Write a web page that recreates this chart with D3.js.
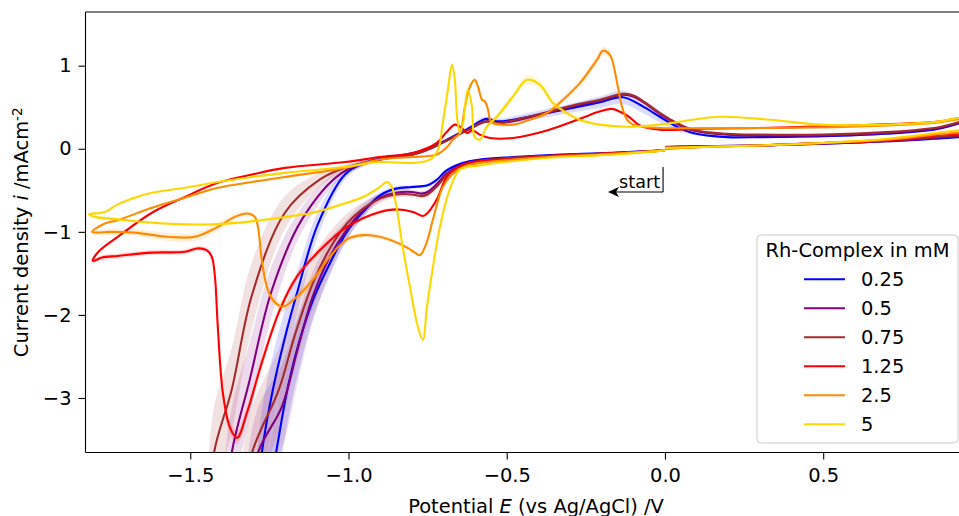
<!DOCTYPE html>
<html><head><meta charset="utf-8">
<script src="https://cdn.jsdelivr.net/npm/d3@7"></script>
<style>body{margin:0;background:#fff}svg{display:block}text{font-family:"DejaVu Sans",sans-serif;fill:#000}</style>
</head><body>
<svg id="chart" width="959" height="516"></svg>
<script>
// ---- data: each point is [E (V vs Ag/AgCl), i (mA cm^-2), band half-width]
const concentrations = ["0.25","0.5","0.75","1.25","2.5","5"];
const colors = ["#0000ff","#800080","#a52a2a","#ff0000","#ff8c00","#ffd700"];
const xTicks = [-1.5,-1.0,-0.5,0.0,0.5];
const yTicks = [1,0,-1,-2,-3];

const cv025 = [
[0,-0.02,0],[-0.12,-0.04,0],[-0.21,-0.055,0],[-0.33,-0.07,0],[-0.48,-0.10,0],[-0.585,-0.13,0.01],[-0.64,-0.17,0.01],
[-0.69,-0.26,0.02],[-0.72,-0.37,0.02],[-0.75,-0.44,0.02],[-0.80,-0.46,0.02],[-0.85,-0.48,0.03],[-0.90,-0.56,0.04],
[-0.954,-0.76,0.06],[-1.005,-1.0,0.1],[-1.059,-1.38,0.15],[-1.11,-1.80,0.22],[-1.154,-2.3,0.32],[-1.19,-2.84,0.4],
[-1.229,-3.66,0.5],[-1.29,-5.0,0.55],[-1.36,-6.5,0.55],[-1.31,-5.0,0.55],[-1.274,-3.66,0.5],[-1.239,-2.9,0.42],
[-1.194,-2.17,0.32],[-1.16,-1.70,0.25],[-1.097,-0.91,0.15],[-1.011,-0.31,0.06],[-0.948,-0.17,0.03],[-0.885,-0.11,0.02],
[-0.796,-0.05,0.01],[-0.743,0.01,0.01],[-0.689,0.11,0.01],[-0.648,0.19,0.02],[-0.61,0.27,0.02],[-0.585,0.33,0.03],
[-0.563,0.36,0.03],[-0.531,0.33,0.03],[-0.48,0.35,0.04],[-0.373,0.43,0.05],[-0.269,0.51,0.06],[-0.205,0.56,0.07],
[-0.133,0.62,0.08],[-0.07,0.51,0.08],[-0.016,0.385,0.07],[0.038,0.265,0.04],[0.088,0.19,0.02],[0.196,0.14,0.01],
[0.30,0.14,0],[0.50,0.15,0],[0.70,0.18,0],[0.85,0.23,0],[1.0,0.34,0],[1.0,0.2,0],[0.85,0.12,0],[0.70,0.09,0],
[0.50,0.06,0],[0.30,0.04,0],[0.10,0.03,0],[0,0.02,0]
];
const cv05 = [
[0,-0.02,0],[-0.12,-0.045,0],[-0.21,-0.06,0],[-0.33,-0.08,0],[-0.48,-0.11,0],[-0.585,-0.14,0.01],[-0.64,-0.19,0.01],
[-0.69,-0.30,0.02],[-0.72,-0.42,0.03],[-0.75,-0.52,0.03],[-0.77,-0.54,0.03],[-0.80,-0.52,0.03],[-0.85,-0.53,0.04],
[-0.90,-0.59,0.05],[-0.954,-0.74,0.08],[-1.005,-0.97,0.12],[-1.059,-1.30,0.2],[-1.113,-1.78,0.3],[-1.16,-2.4,0.4],
[-1.21,-3.1,0.5],[-1.286,-3.66,0.55],[-1.34,-4.8,0.6],[-1.43,-6.3,0.6],[-1.40,-4.7,0.6],[-1.369,-3.66,0.55],
[-1.312,-2.78,0.45],[-1.242,-1.70,0.3],[-1.147,-0.85,0.15],[-1.021,-0.29,0.06],[-0.901,-0.13,0.02],[-0.796,-0.07,0.01],
[-0.743,0.0,0.01],[-0.689,0.10,0.01],[-0.648,0.18,0.01],[-0.61,0.25,0.01],[-0.585,0.30,0.01],[-0.56,0.33,0.01],
[-0.53,0.31,0.01],[-0.48,0.33,0.01],[-0.373,0.43,0.02],[-0.269,0.53,0.02],[-0.205,0.58,0.02],[-0.133,0.65,0.02],
[-0.10,0.63,0.02],[-0.06,0.54,0.02],[-0.016,0.42,0.02],[0.038,0.30,0.01],[0.088,0.22,0.01],[0.196,0.17,0],
[0.30,0.16,0],[0.50,0.16,0],[0.70,0.19,0],[0.85,0.24,0],[1.0,0.34,0],[1.0,0.21,0],[0.85,0.13,0],[0.70,0.09,0],
[0.50,0.06,0],[0.30,0.04,0],[0.10,0.03,0],[0,0.02,0]
];
const cv075 = [
[0,-0.02,0],[-0.12,-0.045,0],[-0.21,-0.06,0],[-0.33,-0.08,0],[-0.48,-0.11,0],[-0.585,-0.15,0.01],[-0.64,-0.20,0.01],
[-0.69,-0.32,0.02],[-0.72,-0.45,0.03],[-0.75,-0.55,0.03],[-0.77,-0.57,0.03],[-0.80,-0.55,0.03],[-0.85,-0.55,0.04],
[-0.90,-0.60,0.05],[-0.954,-0.72,0.08],[-1.005,-0.90,0.12],[-1.059,-1.20,0.2],[-1.113,-1.62,0.3],[-1.17,-2.25,0.4],
[-1.22,-2.9,0.5],[-1.305,-3.66,0.55],[-1.36,-4.8,0.6],[-1.48,-6.3,0.6],[-1.45,-4.8,0.6],[-1.425,-3.66,0.55],
[-1.369,-2.90,0.5],[-1.305,-1.76,0.4],[-1.201,-0.77,0.2],[-1.09,-0.37,0.08],[-1.011,-0.23,0.04],[-0.901,-0.13,0.02],
[-0.796,-0.07,0.01],[-0.743,0.0,0.01],[-0.689,0.10,0.01],[-0.648,0.18,0.01],[-0.61,0.25,0.01],[-0.585,0.31,0.01],
[-0.56,0.33,0.01],[-0.53,0.31,0.01],[-0.48,0.34,0.01],[-0.373,0.44,0.02],[-0.269,0.54,0.02],[-0.205,0.59,0.02],
[-0.133,0.66,0.02],[-0.10,0.64,0.02],[-0.06,0.55,0.02],[-0.016,0.43,0.02],[0.038,0.31,0.01],[0.088,0.23,0.01],
[0.196,0.18,0],[0.30,0.17,0],[0.50,0.17,0],[0.70,0.20,0],[0.85,0.25,0],[1.0,0.35,0],[1.0,0.22,0],[0.85,0.14,0],
[0.70,0.10,0],[0.50,0.07,0],[0.30,0.04,0],[0.10,0.03,0],[0,0.02,0]
];
const cv125 = [
[0,-0.02,0],[-0.12,-0.05,0],[-0.21,-0.06,0],[-0.33,-0.08,0],[-0.48,-0.12,0],[-0.585,-0.15,0],[-0.638,-0.19,0],
[-0.689,-0.34,0.01],[-0.721,-0.61,0.01],[-0.752,-0.78,0.01],[-0.765,-0.81,0.01],[-0.796,-0.76,0.01],[-0.85,-0.73,0.01],
[-0.901,-0.76,0.02],[-1.005,-0.94,0.03],[-1.09,-1.22,0.04],[-1.163,-1.54,0.05],[-1.217,-1.94,0.06],[-1.271,-2.54,0.08],
[-1.321,-3.18,0.08],[-1.352,-3.48,0.08],[-1.375,-3.35,0.08],[-1.397,-2.94,0.08],[-1.413,-2.14,0.06],[-1.422,-1.54,0.05],
[-1.432,-1.30,0.04],[-1.448,-1.22,0.03],[-1.479,-1.20,0.03],[-1.517,-1.24,0.03],[-1.621,-1.25,0.03],[-1.729,-1.29,0.03],
[-1.779,-1.31,0.03],[-1.808,-1.35,0.02],[-1.79,-1.24,0.01],[-1.729,-1.06,0.01],[-1.621,-0.77,0.01],[-1.517,-0.58,0.01],
[-1.413,-0.41,0.01],[-1.305,-0.31,0.01],[-1.201,-0.23,0.01],[-1.011,-0.16,0],[-0.901,-0.10,0],[-0.796,-0.05,0],
[-0.721,0.07,0.01],[-0.689,0.205,0.01],[-0.664,0.29,0.01],[-0.642,0.25,0.01],[-0.626,0.19,0.01],[-0.607,0.22,0.01],
[-0.585,0.17,0.01],[-0.553,0.13,0.01],[-0.48,0.13,0.01],[-0.373,0.22,0.01],[-0.269,0.36,0.01],[-0.205,0.45,0.01],
[-0.168,0.48,0.01],[-0.12,0.40,0.01],[-0.079,0.28,0.01],[-0.016,0.23,0],[0.111,0.24,0],[0.30,0.25,0],[0.585,0.28,0],
[0.85,0.32,0],[1.0,0.38,0],[1.0,0.24,0],[0.85,0.16,0],[0.70,0.10,0],[0.50,0.07,0],[0.30,0.04,0],[0.10,0.02,0],[0,0.0,0]
];
const cv25 = [
[0,-0.02,0],[-0.12,-0.05,0],[-0.21,-0.07,0],[-0.33,-0.09,0],[-0.48,-0.13,0],[-0.585,-0.17,0],[-0.638,-0.22,0.01],
[-0.67,-0.30,0.01],[-0.702,-0.46,0.01],[-0.733,-0.85,0.02],[-0.755,-1.15,0.02],[-0.774,-1.28,0.02],[-0.79,-1.25,0.02],
[-0.815,-1.19,0.02],[-0.847,-1.13,0.02],[-0.901,-1.06,0.03],[-0.954,-1.04,0.03],[-1.005,-1.09,0.04],[-1.059,-1.30,0.05],
[-1.113,-1.58,0.05],[-1.163,-1.78,0.06],[-1.207,-1.90,0.06],[-1.239,-1.82,0.05],[-1.258,-1.66,0.05],[-1.274,-1.34,0.04],
[-1.286,-0.94,0.03],[-1.296,-0.82,0.03],[-1.318,-0.78,0.03],[-1.359,-0.82,0.04],[-1.413,-0.94,0.05],[-1.485,-1.06,0.05],
[-1.571,-1.06,0.05],[-1.676,-1.01,0.04],[-1.748,-1.00,0.04],[-1.81,-1.00,0.03],[-1.77,-0.90,0.01],[-1.729,-0.86,0.01],
[-1.621,-0.71,0.01],[-1.517,-0.59,0.01],[-1.413,-0.47,0.01],[-1.305,-0.40,0.01],[-1.201,-0.34,0.01],[-1.011,-0.23,0.01],
[-0.901,-0.13,0],[-0.796,-0.10,0],[-0.721,-0.07,0],[-0.689,0.02,0.01],[-0.670,0.11,0.01],[-0.648,0.19,0.02],
[-0.632,0.51,0.03],[-0.616,0.75,0.03],[-0.601,0.83,0.03],[-0.591,0.75,0.03],[-0.578,0.59,0.02],[-0.569,0.57,0.02],
[-0.559,0.47,0.02],[-0.553,0.35,0.02],[-0.544,0.31,0.02],[-0.48,0.29,0.02],[-0.427,0.35,0.02],[-0.373,0.43,0.03],
[-0.322,0.59,0.04],[-0.269,0.79,0.05],[-0.215,1.07,0.05],[-0.196,1.18,0.05],[-0.174,1.13,0.05],[-0.164,1.03,0.04],
[-0.149,0.75,0.03],[-0.136,0.51,0.02],[-0.12,0.35,0.01],[-0.101,0.29,0.01],[-0.07,0.265,0],[-0.016,0.25,0],[0.30,0.25,0],
[0.585,0.265,0],[0.85,0.31,0],[1.0,0.37,0],[1.0,0.26,0],[0.85,0.17,0],[0.70,0.11,0],[0.50,0.07,0],[0.30,0.04,0],
[0.10,0.02,0],[0,0.0,0]
];
const cv5 = [
[0,-0.02,0],[-0.12,-0.06,0],[-0.21,-0.08,0],[-0.33,-0.10,0],[-0.48,-0.15,0],[-0.585,-0.20,0],[-0.648,-0.25,0.01],
[-0.68,-0.49,0.01],[-0.711,-0.94,0.02],[-0.733,-1.42,0.02],[-0.752,-1.90,0.03],[-0.765,-2.30,0.03],[-0.781,-2.14,0.03],
[-0.806,-1.66,0.02],[-0.831,-1.13,0.02],[-0.847,-0.73,0.02],[-0.863,-0.46,0.02],[-0.879,-0.40,0.02],[-0.901,-0.46,0.02],
[-0.954,-0.58,0.02],[-1.005,-0.65,0.02],[-1.113,-0.77,0.02],[-1.217,-0.83,0.02],[-1.321,-0.88,0.02],[-1.429,-0.91,0.02],
[-1.517,-0.91,0.02],[-1.621,-0.89,0.02],[-1.729,-0.85,0.02],[-1.801,-0.82,0.02],[-1.82,-0.79,0.01],[-1.77,-0.76,0.01],
[-1.729,-0.67,0.01],[-1.676,-0.59,0.01],[-1.621,-0.53,0.01],[-1.517,-0.47,0.01],[-1.413,-0.40,0.01],[-1.305,-0.34,0.01],
[-1.201,-0.29,0.01],[-1.011,-0.22,0.01],[-0.901,-0.16,0.01],[-0.796,-0.17,0.01],[-0.743,-0.13,0.01],[-0.717,-0.01,0.02],
[-0.702,0.31,0.03],[-0.686,0.71,0.04],[-0.673,1.01,0.05],[-0.664,0.83,0.04],[-0.657,0.385,0.03],[-0.648,0.19,0.02],
[-0.638,0.31,0.03],[-0.623,0.71,0.04],[-0.61,0.51,0.03],[-0.601,0.14,0.02],[-0.585,0.11,0.02],[-0.563,0.265,0.03],
[-0.531,0.385,0.04],[-0.48,0.63,0.05],[-0.436,0.83,0.06],[-0.395,0.77,0.06],[-0.354,0.55,0.05],[-0.31,0.43,0.04],
[-0.269,0.35,0.03],[-0.205,0.29,0.02],[-0.12,0.265,0.01],[-0.016,0.29,0],[0.088,0.35,0],[0.174,0.385,0],[0.332,0.35,0],
[0.49,0.29,0],[0.702,0.29,0],[0.85,0.32,0],[1.0,0.39,0],[1.0,0.29,0],[0.85,0.19,0],[0.70,0.12,0],[0.50,0.07,0],
[0.30,0.04,0],[0.10,0.02,0],[0,0.01,0]
];
const seriesData = [cv025, cv05, cv075, cv125, cv25, cv5];
const startText = "start";
const startArrow = {tail:[-0.006,-0.52], head:[-0.18,-0.52], barTop:-0.22, text:[-0.145,-0.47]};

// ---- layout
const svg = d3.select("#chart");
const L = 85.5, R = 986.5, T = 12, B = 452.5;
const x = d3.scaleLinear().domain([-1.831, 1.016]).range([L, R]);
const y = d3.scaleLinear().domain([-3.656, 1.646]).range([B, T]);

svg.append("clipPath").attr("id","clip").append("rect")
  .attr("x",L).attr("y",T).attr("width",R-L).attr("height",B-T);
const plot = svg.append("g").attr("clip-path","url(#clip)");

const curve = d3.curveCatmullRom.alpha(0.5);
const band = d3.area().defined(d=>d[2]>0).curve(curve)
  .x(d=>x(d[0])).y0(d=>y(d[1]-d[2])).y1(d=>y(d[1]+d[2]));
const line = d3.line().curve(curve).x(d=>x(d[0])).y(d=>y(d[1]));

seriesData.forEach((s,k)=>{
  plot.append("path").attr("d",band(s)).attr("fill",colors[k]).attr("fill-opacity",0.14).attr("stroke","none");
});
seriesData.forEach((s,k)=>{
  plot.append("path").attr("d",line(s)).attr("fill","none").attr("stroke",colors[k])
    .attr("stroke-width",2.1).attr("stroke-linejoin","round");
});

// start annotation
const ann = svg.append("g");
ann.append("line").attr("x1",x(startArrow.tail[0])).attr("x2",x(startArrow.head[0])+8)
  .attr("y1",y(startArrow.tail[1])).attr("y2",y(startArrow.head[1])).attr("stroke","#000").attr("stroke-width",1.1);
ann.append("line").attr("x1",x(startArrow.tail[0])).attr("x2",x(startArrow.tail[0]))
  .attr("y1",y(startArrow.tail[1])).attr("y2",y(startArrow.barTop)).attr("stroke","#000").attr("stroke-width",1.1);
const hx = x(startArrow.head[0]), hy = y(startArrow.head[1]);
ann.append("path").attr("d",`M${hx},${hy} L${hx+11},${hy-5} L${hx+8},${hy} L${hx+11},${hy+5} Z`).attr("fill","#000");
ann.append("text").attr("x",x(startArrow.text[0])).attr("y",y(startArrow.text[1]))
  .style("font-size","17.6px").text(startText);

// axes
const fs = "19.44px";
const gx = svg.append("g").attr("transform",`translate(0,${B})`)
  .call(d3.axisBottom(x).tickValues(xTicks).tickSize(7).tickPadding(9)
    .tickFormat(d=>d3.format(".1f")(d).replace("-","\u2212")));
gx.select(".domain").remove();
gx.selectAll("line").attr("stroke","#000").attr("stroke-width",1.1);
gx.selectAll("text").style("font-size",fs).style("font-family","DejaVu Sans");
const gy = svg.append("g").attr("transform",`translate(${L},0)`)
  .call(d3.axisLeft(y).tickValues(yTicks).tickSize(7).tickPadding(7)
    .tickFormat(d=>String(d).replace("-","\u2212")));
gy.select(".domain").remove();
gy.selectAll("line").attr("stroke","#000").attr("stroke-width",1.1);
gy.selectAll("text").style("font-size",fs).style("font-family","DejaVu Sans");

// spines
svg.append("path").attr("d",`M${L},${T} H${R} M${L},${T} V${B} M${L},${B} H${R}`)
  .attr("stroke","#000").attr("stroke-width",1.1).attr("fill","none");

// axis labels
const xl = svg.append("text").attr("x",(L+R)/2).attr("y",512.5).attr("text-anchor","middle").style("font-size",fs);
xl.append("tspan").text("Potential ");
xl.append("tspan").style("font-style","italic").text("E");
xl.append("tspan").text(" (vs Ag/AgCl) /V");
const yl = svg.append("text").attr("transform",`translate(28,${(T+B)/2}) rotate(-90)`).attr("text-anchor","middle").style("font-size",fs);
yl.append("tspan").text("Current density ");
yl.append("tspan").style("font-style","italic").text("i");
yl.append("tspan").text(" /mAcm");
yl.append("tspan").attr("dy","-0.45em").style("font-size","13.6px").text("-2");

// legend
const lg = svg.append("g");
lg.append("rect").attr("x",757).attr("y",235).attr("width",201).attr("height",208).attr("rx",4)
  .attr("fill","#fff").attr("fill-opacity",0.8).attr("stroke","#cccccc").attr("stroke-width",1);
lg.append("text").attr("x",857.5).attr("y",257.3).attr("text-anchor","middle").style("font-size",fs).text("Rh-Complex in mM");
concentrations.forEach((c,k)=>{
  const yy = 279.3 + k*29;
  lg.append("line").attr("x1",804).attr("x2",845).attr("y1",yy).attr("y2",yy).attr("stroke",colors[k]).attr("stroke-width",2.1);
  lg.append("text").attr("x",861).attr("y",yy+7).style("font-size",fs).text(c);
});
</script>
</body></html>
